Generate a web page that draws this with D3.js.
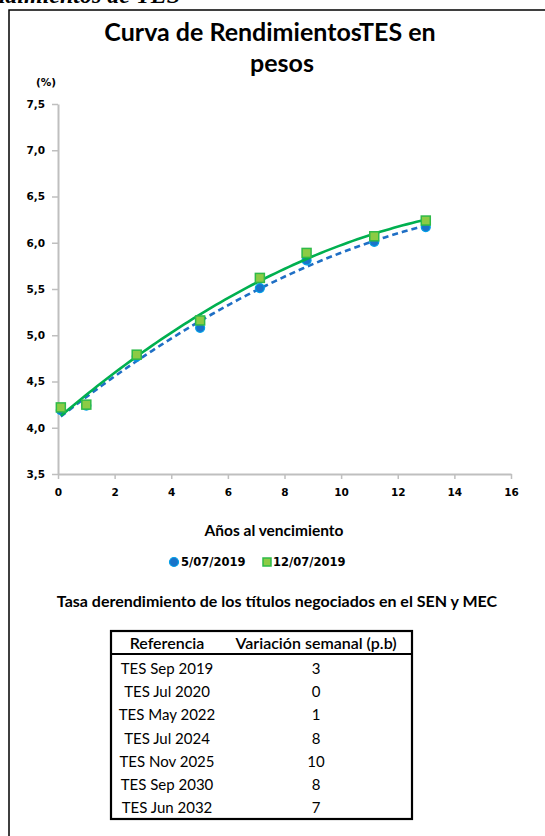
<!DOCTYPE html>
<html>
<head>
<meta charset="utf-8">
<script src="https://cdn.jsdelivr.net/npm/d3@7"></script>
<style>
  html, body { margin: 0; padding: 0; background: #fff; }
  svg { display: block; }
</style>
</head>
<body>
<div id="chart"></div>
<script>
// ---------------------------------------------------------
// DATA
// ---------------------------------------------------------
const years = [0.1, 1.0, 2.78, 5.02, 7.13, 8.78, 11.17, 12.99];
const yields0507 = [4.19, 4.24, 4.77, 5.08, 5.51, 5.81, 6.01, 6.17];
const yields1207 = [4.22, 4.25, 4.79, 5.16, 5.62, 5.89, 6.07, 6.24];
const seriesNames = ["5/07/2019", "12/07/2019"];
const xTicks = [0, 2, 4, 6, 8, 10, 12, 14, 16];
const yTicks = [3.5, 4.0, 4.5, 5.0, 5.5, 6.0, 6.5, 7.0, 7.5];
const tableHeader = ["Referencia", "Variación semanal (p.b)"];
const tableRefs = ["TES Sep 2019", "TES Jul 2020", "TES May 2022", "TES Jul 2024", "TES Nov 2025", "TES Sep 2030", "TES Jun 2032"];
const tableVars = [3, 0, 1, 8, 10, 8, 7];

// ---------------------------------------------------------
// SVG
// ---------------------------------------------------------
const W = 545, H = 836;
const svg = d3.select("#chart").append("svg")
    .attr("width", W).attr("height", H)
    .style("background", "#fff");

// heading of the page above, only its lower edge shows
svg.append("text")
    .attr("x", 180).attr("y", 2.5)
    .attr("text-anchor", "end")
    .style("font-family", "'Liberation Serif', serif")
    .style("font-weight", "bold").style("font-style", "italic")
    .style("font-size", "24px")
    .text("Curva de rendimientos de TES");

// outer frame
svg.append("path")
    .attr("d", `M9,${H} V10 H${W}`)
    .attr("fill", "none").attr("stroke", "#000").attr("stroke-width", 1.5);

// title
const titleFont = "Lato, 'Open Sans', sans-serif";
svg.append("text")
    .attr("x", 270).attr("y", 41)
    .attr("text-anchor", "middle")
    .style("font-family", titleFont).style("font-weight", "bold").style("font-size", "25px")
    .text("Curva de RendimientosTES en");
svg.append("text")
    .attr("x", 282).attr("y", 72)
    .attr("text-anchor", "middle")
    .style("font-family", titleFont).style("font-weight", "bold").style("font-size", "25px")
    .text("pesos");

// ---------------------------------------------------------
// SCALES & AXES
// ---------------------------------------------------------
const x = d3.scaleLinear().domain([0, 16]).range([58, 511]);
const y = d3.scaleLinear().domain([3.5, 7.5]).range([474, 104]);
const comma = v => d3.format(".1f")(v).replace(".", ",");
const tickFont = "'DejaVu Sans', Verdana, sans-serif";

const yAxis = svg.append("g")
    .attr("transform", `translate(${x(0)},0)`)
    .call(d3.axisLeft(y).tickValues(yTicks).tickFormat(comma).tickSize(6).tickSizeOuter(0).tickPadding(7));
const xAxis = svg.append("g")
    .attr("transform", `translate(0,${y(3.5)})`)
    .call(d3.axisBottom(x).tickValues(xTicks).tickFormat(d3.format("d")).tickSize(5).tickSizeOuter(0).tickPadding(10));

[yAxis, xAxis].forEach(g => {
  g.select(".domain").attr("stroke", "#bfbfbf").attr("stroke-width", 2);
  g.selectAll(".tick line").attr("stroke", "#bfbfbf").attr("stroke-width", 1.5);
  g.selectAll(".tick text")
      .attr("fill", "#000")
      .style("font-family", tickFont).style("font-weight", "bold").style("font-size", "10.5px");
});

svg.append("text")
    .attr("x", 46).attr("y", 86)
    .attr("text-anchor", "middle")
    .style("font-family", tickFont).style("font-weight", "bold").style("font-size", "10.5px")
    .text("(%)");

svg.append("text")
    .attr("x", 274).attr("y", 536)
    .attr("text-anchor", "middle")
    .style("font-family", titleFont).style("font-weight", "bold").style("font-size", "15.5px")
    .text("Años al vencimiento");

// ---------------------------------------------------------
// TREND LINES (2nd degree least squares, like Excel)
// ---------------------------------------------------------
function polyFit2(xs, ys) {
  // normal equations for y = a + b x + c x^2
  const n = xs.length;
  const S = k => d3.sum(xs, v => Math.pow(v, k));
  const T = k => d3.sum(xs.map((v, i) => Math.pow(v, k) * ys[i]));
  const A = [[n, S(1), S(2)], [S(1), S(2), S(3)], [S(2), S(3), S(4)]];
  const B = [T(0), T(1), T(2)];
  for (let i = 0; i < 3; i++) {
    for (let j = i + 1; j < 3; j++) {
      const f = A[j][i] / A[i][i];
      for (let k = i; k < 3; k++) A[j][k] -= f * A[i][k];
      B[j] -= f * B[i];
    }
  }
  const c = [0, 0, 0];
  for (let i = 2; i >= 0; i--) {
    let s = B[i];
    for (let k = i + 1; k < 3; k++) s -= A[i][k] * c[k];
    c[i] = s / A[i][i];
  }
  return v => c[0] + c[1] * v + c[2] * v * v;
}

const line = d3.line().x(d => x(d[0])).y(d => y(d[1]));
function trend(ys) {
  const f = polyFit2(years, ys);
  const lo = d3.min(years), hi = d3.max(years);
  return d3.range(0, 81).map(i => lo + (hi - lo) * i / 80).map(v => [v, f(v)]);
}

const blue = "#1a73c9", blueEdge = "#00a0e8";
const green = "#00b050", greenFill = "#8ccb45", greenEdge = "#2fba48";

svg.append("path")
    .attr("d", line(trend(yields0507)))
    .attr("fill", "none").attr("stroke", "#1f6fc5")
    .attr("stroke-width", 2.6).attr("stroke-dasharray", "6,4");

svg.append("g").selectAll("circle")
    .data(years.map((v, i) => [v, yields0507[i]]))
    .join("circle")
    .attr("cx", d => x(d[0])).attr("cy", d => y(d[1]))
    .attr("r", 4.5)
    .attr("fill", blue).attr("stroke", blueEdge).attr("stroke-width", 1.2);

svg.append("path")
    .attr("d", line(trend(yields1207)))
    .attr("fill", "none").attr("stroke", green).attr("stroke-width", 2.6);

svg.append("g").selectAll("rect")
    .data(years.map((v, i) => [v, yields1207[i]]))
    .join("rect")
    .attr("x", d => x(d[0]) - 4.5).attr("y", d => y(d[1]) - 4.5)
    .attr("width", 9).attr("height", 9)
    .attr("fill", greenFill).attr("stroke", greenEdge).attr("stroke-width", 1.5);

// ---------------------------------------------------------
// LEGEND
// ---------------------------------------------------------
const legFont = { family: tickFont, size: "11.5px" };
const leg = svg.append("g").attr("transform", "translate(0,562)");
leg.append("circle").attr("cx", 174).attr("cy", 0).attr("r", 4.5)
    .attr("fill", blue).attr("stroke", blueEdge).attr("stroke-width", 1.2);
leg.append("text").attr("x", 181).attr("y", 4)
    .style("font-family", legFont.family).style("font-weight", "bold").style("font-size", legFont.size)
    .text(seriesNames[0]);
leg.append("rect").attr("x", 263).attr("y", -4).attr("width", 8).attr("height", 8)
    .attr("fill", greenFill).attr("stroke", greenEdge).attr("stroke-width", 1.5);
leg.append("text").attr("x", 273).attr("y", 4)
    .style("font-family", legFont.family).style("font-weight", "bold").style("font-size", legFont.size)
    .text(seriesNames[1]);

svg.append("text")
    .attr("x", 277).attr("y", 607)
    .attr("text-anchor", "middle")
    .style("font-family", titleFont).style("font-weight", "bold").style("font-size", "16px")
    .text("Tasa derendimiento de los títulos negociados en el SEN y MEC");

// ---------------------------------------------------------
// TABLE
// ---------------------------------------------------------
const tbl = { x0: 111, x1: 412, y0: 631, y1: 819, head: 654 };
const colX = [167, 316];
svg.append("rect")
    .attr("x", tbl.x0).attr("y", tbl.y0)
    .attr("width", tbl.x1 - tbl.x0).attr("height", tbl.y1 - tbl.y0)
    .attr("fill", "#fff").attr("stroke", "#000").attr("stroke-width", 2.2);
svg.append("line")
    .attr("x1", tbl.x0).attr("x2", tbl.x1).attr("y1", tbl.head).attr("y2", tbl.head)
    .attr("stroke", "#000").attr("stroke-width", 2);

svg.append("g").selectAll("text")
    .data(tableHeader)
    .join("text")
    .attr("x", (d, i) => colX[i]).attr("y", 649)
    .attr("text-anchor", "middle")
    .style("font-family", titleFont).style("font-size", "16px").style("font-weight", "600")
    .text(d => d);

const rowY = d3.scaleLinear().domain([0, tableRefs.length - 1]).range([674, 813]);
const rows = svg.append("g").selectAll("g")
    .data(tableRefs.map((r, i) => [r, tableVars[i]]))
    .join("g")
    .attr("transform", (d, i) => `translate(0,${rowY(i)})`);
rows.selectAll("text")
    .data(d => d)
    .join("text")
    .attr("x", (d, i) => colX[i]).attr("y", 0)
    .attr("text-anchor", "middle")
    .style("font-family", titleFont).style("font-size", "15px")
    .text(d => d);
</script>
</body>
</html>
